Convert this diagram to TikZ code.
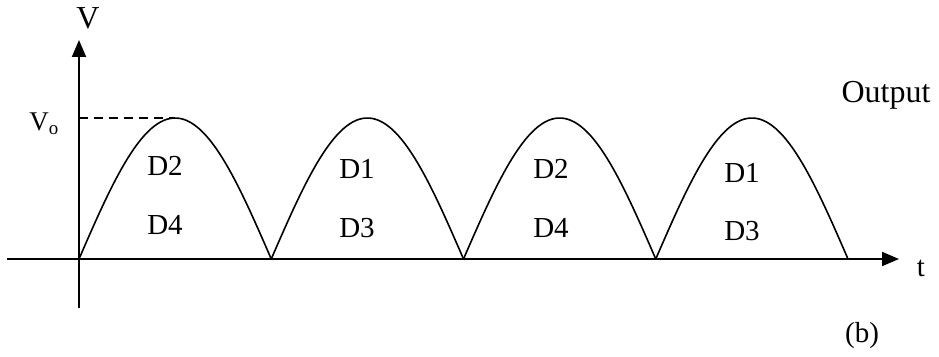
\documentclass[tikz,border=0pt]{standalone}
\usepackage{fontspec}
\setmainfont{Liberation Serif}
\usepackage{tikz}
\usetikzlibrary{arrows.meta,positioning}

\begin{document}
\begin{tikzpicture}[
  x=1pt, y=1pt,
  font=\fontsize{29}{33}\selectfont,
  axis/.style={line width=2pt, -{Triangle[length=17pt,width=14pt]}},
  wave/.style={line width=1.6pt},
  lbl/.style={inner sep=1pt}
]
\useasboundingbox (0,0) rectangle (939,356);
\coordinate (o) at (79,97);
\coordinate (ybot) at (79,48);
\coordinate (ytop) at (79,316);
\coordinate (xleft) at (7,97);
\coordinate (xright) at (899,97);
\coordinate (peak) at (175,238);
\draw[axis] (ybot) -- (ytop);
\draw[axis] (xleft) -- (xright);
\node[lbl, font=\fontsize{32}{36}\selectfont] (vname) at (88,338) {V};
\node[lbl] (tname) at (921,88) {t};
\node[lbl, font=\fontsize{27}{31}\selectfont] (vo) at (44,232) {V\textsubscript{o}};
\draw[line width=1.3pt, dash pattern=on 9pt off 6pt] (o |- peak) -- (peak);
% four half waves
\foreach \k in {0,1,2,3}
  \draw[wave] plot[domain=0:180, samples=60] ({79+192.25*\k+\x/180*192.25},{97+141*sin(\x)});
\node[lbl] (a1) at (165,190) {D2};
\node[lbl] (b1) at (165,131) {D4};
\node[lbl] (a2) at (357,187) {D1};
\node[lbl] (b2) at (357,128) {D3};
\node[lbl] (a3) at (551,187) {D2};
\node[lbl] (b3) at (551,128) {D4};
\node[lbl] (a4) at (742,183) {D1};
\node[lbl] (b4) at (742,125) {D3};
\node[lbl, font=\fontsize{32}{36}\selectfont] (out) at (886,261) {Output};
\node[lbl] (cap) at (862,20) {(b)};
\end{tikzpicture}
\end{document}
